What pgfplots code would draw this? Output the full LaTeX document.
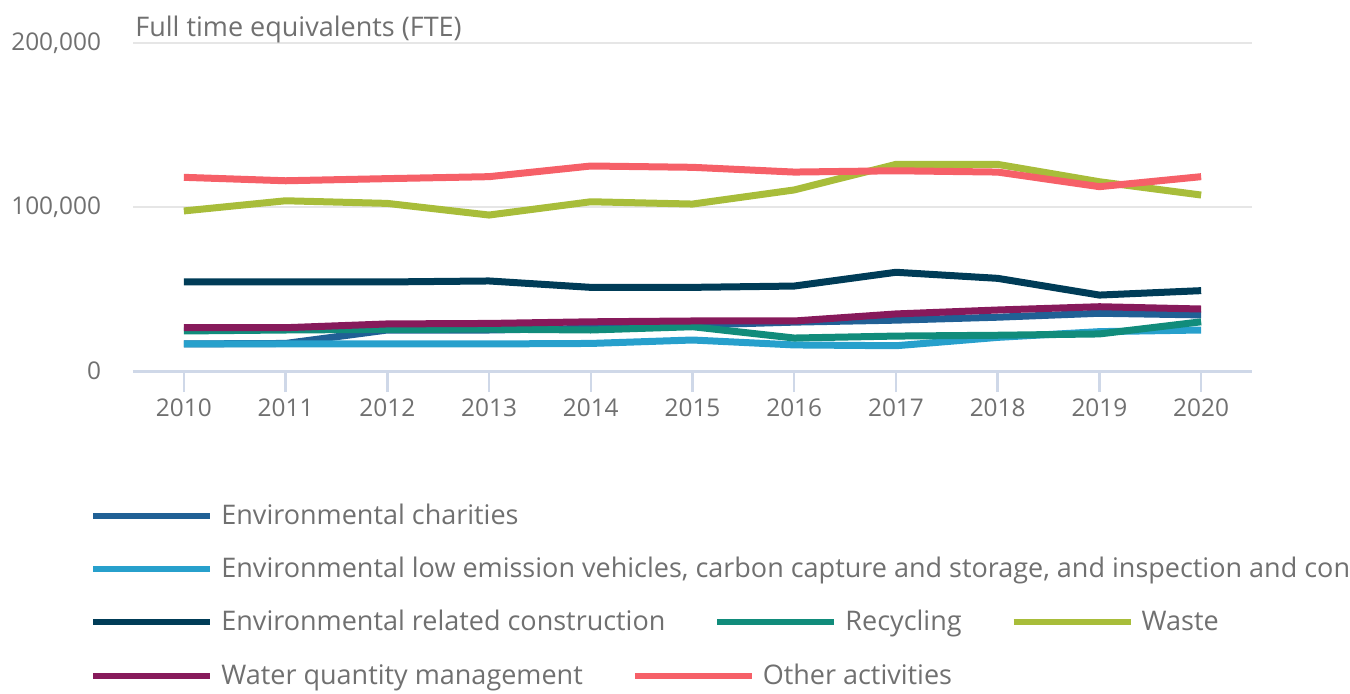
\documentclass[border=0pt]{standalone}
\usepackage{fontspec}
\setmainfont{Open Sans}
\usepackage{pgfplots}
\pgfplotsset{compat=1.18}
\definecolor{txt}{HTML}{707070}
\definecolor{axc}{HTML}{CFD8E8}
\definecolor{gridc}{HTML}{E6E6E6}
\definecolor{cA}{HTML}{206095}
\definecolor{cB}{HTML}{27A0CC}
\definecolor{cC}{HTML}{003C57}
\definecolor{cD}{HTML}{118C7B}
\definecolor{cE}{HTML}{A8BD3A}
\definecolor{cF}{HTML}{871A5B}
\definecolor{cG}{HTML}{F66068}
\pgfplotsset{legend image code/.code={\draw[#1] (0pt,0pt) -- (58.5pt,0pt);}}
\pgfplotsset{
 legrow/.style={hide axis, scale only axis, width=10pt, height=10pt,
  xmin=0, xmax=1, ymin=0, ymax=1, anchor=south west, legend columns=-1,
  legend style={at={(0,0)}, anchor=west, draw=none, fill=none, inner sep=0pt,
   font=\fontsize{13.5}{16}\selectfont, text=txt,
   /tikz/every odd column/.append style={column sep=4pt},
   /tikz/every even column/.append style={column sep=24.5pt},
   nodes={inner sep=0pt}}}
}
\begin{document}
\begin{tikzpicture}
\useasboundingbox (0,0) rectangle (675pt,346.5pt);
\begin{axis}[
 scale only axis, width=559.5pt, height=164pt, at={(66.5pt,161pt)}, anchor=south west,
 xmin=2009.5, xmax=2020.5, ymin=0, ymax=200000,
 xtick={2010,2011,2012,2013,2014,2015,2016,2017,2018,2019,2020},
 xticklabels={2010,2011,2012,2013,2014,2015,2016,2017,2018,2019,2020},
 ytick={0,100000,200000},
 yticklabels={0,{100,000},{200,000}},
 axis x line*=bottom, axis y line*=left,
 x axis line style={draw=axc, line width=1.5pt, -},
 y axis line style={draw=none},
 ymajorgrids, grid style={gridc, line width=1pt},
 major tick length=10.5pt, tick align=outside,
 xtick style={draw=axc, line width=1.2pt},
 ytick style={draw=none},
 ticklabel style={font=\fontsize{12.2}{14}\selectfont, text=txt},
 yticklabel style={xshift=-2pt},
 scaled y ticks=false,
 every axis plot/.append style={line width=3.5pt, line join=round},
 clip=false
]
% Environmental charities
\addplot[cA] coordinates {(2010,16500)(2011,16800)(2012,25000)(2013,25000)(2014,26000)(2015,28000)(2016,29800)(2017,31000)(2018,32800)(2019,35200)(2020,34200)};
% Low emission vehicles etc.
\addplot[cB] coordinates {(2010,16500)(2011,16500)(2012,16500)(2013,16500)(2014,16800)(2015,18900)(2016,15900)(2017,15400)(2018,20500)(2019,24000)(2020,25000)};
% Environmental related construction
\addplot[cC] coordinates {(2010,54300)(2011,54300)(2012,54300)(2013,54900)(2014,51000)(2015,51000)(2016,51800)(2017,60200)(2018,56500)(2019,46300)(2020,49000)};
% Recycling
\addplot[cD] coordinates {(2010,24400)(2011,25000)(2012,25400)(2013,25500)(2014,25000)(2015,27000)(2016,20100)(2017,21300)(2018,21800)(2019,22600)(2020,30000)};
% Waste
\addplot[cE] coordinates {(2010,97600)(2011,103800)(2012,102200)(2013,95100)(2014,103200)(2015,101800)(2016,110400)(2017,126000)(2018,126000)(2019,115400)(2020,107300)};
% Water quantity management
\addplot[cF] coordinates {(2010,26400)(2011,26400)(2012,28700)(2013,29000)(2014,30000)(2015,30500)(2016,30500)(2017,34800)(2018,37200)(2019,39200)(2020,37800)};
% Other activities
\addplot[cG] coordinates {(2010,118100)(2011,116000)(2012,117300)(2013,118500)(2014,125000)(2015,124200)(2016,121300)(2017,122100)(2018,121300)(2019,112400)(2020,118500)};
\node[anchor=base west, inner sep=0pt, font=\fontsize{13.5}{16}\selectfont, text=txt] at (rel axis cs:0,1) [xshift=1pt, yshift=3.5pt] {Full time equivalents (FTE)};
\end{axis}
\begin{axis}[legrow, at={(45pt,88.5pt)}]
\addlegendimage{cA, line width=3pt}\addlegendentry{Environmental charities}
\end{axis}
\begin{axis}[legrow, at={(45pt,62pt)}]
\addlegendimage{cB, line width=3pt}\addlegendentry{Environmental low emission vehicles, carbon capture and storage, and inspection and control}
\end{axis}
\begin{axis}[legrow, at={(45pt,35.5pt)}]
\addlegendimage{cC, line width=3pt}\addlegendentry{Environmental related construction}
\addlegendimage{cD, line width=3pt}\addlegendentry{Recycling}
\addlegendimage{cE, line width=3pt}\addlegendentry{Waste}
\end{axis}
\begin{axis}[legrow, at={(45pt,8.5pt)}]
\addlegendimage{cF, line width=3pt}\addlegendentry{Water quantity management}
\addlegendimage{cG, line width=3pt}\addlegendentry{Other activities}
\end{axis}
\end{tikzpicture}
\end{document}
